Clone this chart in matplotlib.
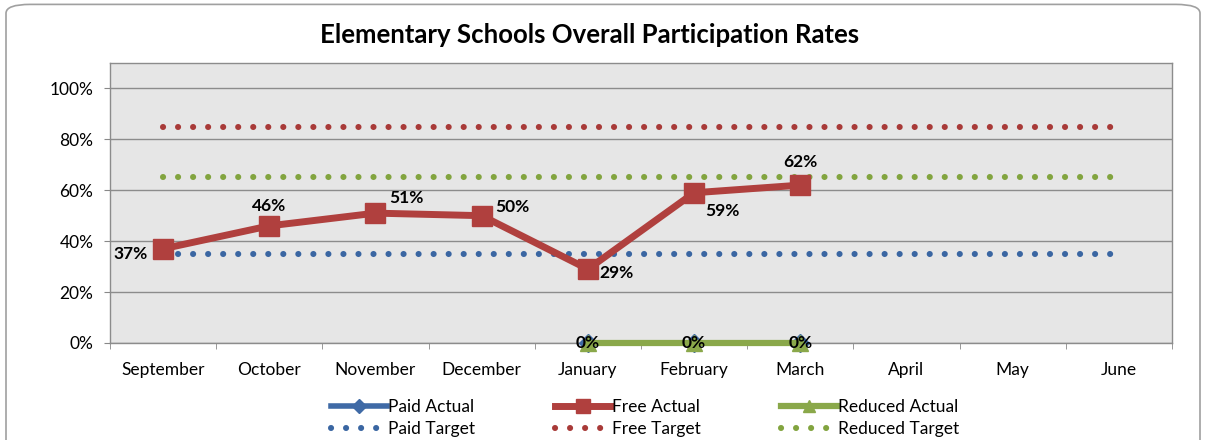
import matplotlib
matplotlib.use("Agg")
import matplotlib.pyplot as plt
from matplotlib.patches import FancyBboxPatch

# Data
months = ["September", "October", "November", "December", "January",
          "February", "March", "April", "May", "June"]
free_actual = [0.37, 0.46, 0.51, 0.50, 0.29, 0.59, 0.62]
paid_actual_months = ["January", "February", "March"]
paid_actual = [0.0, 0.0, 0.0]
reduced_actual = [0.0, 0.0, 0.0]
paid_target = 0.35
free_target = 0.85
reduced_target = 0.65

free_labels = ["37%", "46%", "51%", "50%", "29%", "59%", "62%"]
# label offsets in points (dx, dy, ha)
free_offsets = [(-11, -4, "right"), (0, 14, "center"), (10, 11, "left"),
                (10, 6, "left"), (8, -3, "left"), (8, -13, "left"),
                (0, 17, "center")]

blue = "#3F6AA6"
red = "#B0403E"
green = "#8AA84A"
dot_blue = "#3A66A2"
dot_red = "#A83A38"
dot_green = "#82A43F"

plt.rcParams["font.family"] = ["Lato", "DejaVu Sans"]
fs = 12.5

fig = plt.figure(figsize=(12.06, 4.40), dpi=100)
ax = fig.add_axes([0.0912, 0.2205, 0.8806, 0.6365])

x_all = list(range(len(months)))
x_act = [months.index(m) for m in paid_actual_months]
x_free = list(range(len(free_actual)))

# target lines (dotted)
for val, col, lab in [(paid_target, dot_blue, "Paid Target"),
                      (free_target, dot_red, "Free Target"),
                      (reduced_target, dot_green, "Reduced Target")]:
    ax.plot(x_all, [val] * len(x_all), color=col, lw=4.4,
            linestyle=(0, (0.01, 2.45)), dash_capstyle="round",
            label=lab, zorder=3)

ax.plot(x_act, paid_actual, color=blue, lw=4, marker="D", ms=9,
        label="Paid Actual", zorder=4, clip_on=False)
ax.plot(x_free, free_actual, color=red, lw=5, marker="s", ms=14,
        label="Free Actual", zorder=5, clip_on=False)
ax.plot(x_act, reduced_actual, color=green, lw=4.5, marker="^", ms=12,
        label="Reduced Actual", zorder=5, clip_on=False)

for xi, v, t, (dx, dy, ha) in zip(x_free, free_actual, free_labels, free_offsets):
    ax.annotate(t, (xi, v), xytext=(dx, dy), textcoords="offset points",
                ha=ha, va="center", fontsize=fs, fontweight="bold", zorder=6)
for xi, v in zip(x_act, reduced_actual):
    ax.annotate("0%", (xi, v), ha="center", va="center", fontsize=fs,
                fontweight="bold", zorder=7, annotation_clip=False)

ax.set_xlim(-0.5, len(months) - 0.5)
ax.set_ylim(0, 1.1)
ax.set_yticks([0, 0.2, 0.4, 0.6, 0.8, 1.0])
ax.set_yticklabels(["0%", "20%", "40%", "60%", "80%", "100%"], fontsize=fs)
ax.set_xticks(x_all)
ax.set_xticklabels(months, fontsize=fs)
ax.set_xticks([i + 0.5 for i in range(-1, len(months))], minor=True)
ax.tick_params(axis="x", which="major", length=0, pad=14)
ax.tick_params(axis="x", which="minor", length=4, color="#888888")
ax.tick_params(axis="y", length=4, color="#888888", pad=8)

ax.set_facecolor("#E6E6E6")
ax.grid(axis="y", color="#8C8C8C", lw=1)
ax.set_axisbelow(True)
for s in ax.spines.values():
    s.set_color("#8C8C8C")
    s.set_linewidth(1)

fig.text(0.489, 0.92, "Elementary Schools Overall Participation Rates",
         ha="center", va="center", fontsize=18.5, fontweight="bold")

h, l = ax.get_legend_handles_labels()
order = ["Paid Actual", "Paid Target", "Free Actual", "Free Target",
         "Reduced Actual", "Reduced Target"]
hd = dict(zip(l, h))
fig.legend([hd[o] for o in order], order, ncol=3, loc="lower center",
           bbox_to_anchor=(0.535, -0.029), frameon=False, fontsize=fs,
           handlelength=3.2, handletextpad=0.1, columnspacing=4.6,
           labelspacing=0.35, markerscale=0.75)

frame = FancyBboxPatch((6 / 1206, -0.05), 1194 / 1206, 1.04, transform=fig.transFigure,
                       boxstyle="round,pad=0,rounding_size=0.02",
                       fc="none", ec="#A0A0A0", lw=1.2)
fig.patches.append(frame)

fig.savefig("out.png", dpi=100)
